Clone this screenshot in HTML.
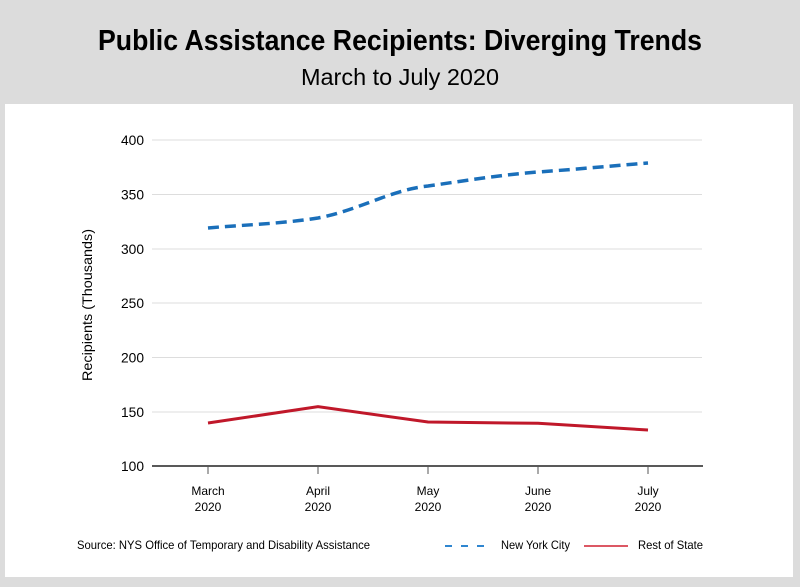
<!DOCTYPE html>
<html><head><style>
body{margin:0;width:800px;height:582px;background:#dcdcdc;font-family:"Liberation Sans",Arial,sans-serif;overflow:hidden}
</style></head><body>
<svg width="800" height="582" xmlns="http://www.w3.org/2000/svg" font-family="Liberation Sans, Arial, sans-serif">
<rect x="0" y="0" width="800" height="582" fill="#dcdcdc"/>
<rect x="5" y="104" width="788" height="473" fill="#fff"/>
<text x="400" y="50" text-anchor="middle" font-size="29" font-weight="bold" fill="#000" textLength="604" lengthAdjust="spacingAndGlyphs">Public Assistance Recipients: Diverging Trends</text>
<text x="400" y="85" text-anchor="middle" font-size="23" fill="#000" textLength="198" lengthAdjust="spacingAndGlyphs">March to July 2020</text>
<g stroke="#dddddd" stroke-width="1">
<line x1="152" x2="702" y1="140" y2="140"/><line x1="152" x2="702" y1="194.5" y2="194.5"/><line x1="152" x2="702" y1="249" y2="249"/><line x1="152" x2="702" y1="303" y2="303"/><line x1="152" x2="702" y1="357.5" y2="357.5"/><line x1="152" x2="702" y1="412" y2="412"/>
</g>
<line x1="152" x2="703" y1="466" y2="466" stroke="#222" stroke-width="1.5"/>
<g stroke="#555" stroke-width="1"><line x1="208" x2="208" y1="466" y2="474"/><line x1="318" x2="318" y1="466" y2="474"/><line x1="428" x2="428" y1="466" y2="474"/><line x1="538" x2="538" y1="466" y2="474"/><line x1="648" x2="648" y1="466" y2="474"/></g>
<g font-size="14" text-anchor="end" fill="#000">
<text x="144" y="145" textLength="23" lengthAdjust="spacingAndGlyphs">400</text><text x="144" y="199.5" textLength="23" lengthAdjust="spacingAndGlyphs">350</text><text x="144" y="254" textLength="23" lengthAdjust="spacingAndGlyphs">300</text><text x="144" y="308" textLength="23" lengthAdjust="spacingAndGlyphs">250</text><text x="144" y="362.5" textLength="23" lengthAdjust="spacingAndGlyphs">200</text><text x="144" y="417" textLength="23" lengthAdjust="spacingAndGlyphs">150</text><text x="144" y="471" textLength="23" lengthAdjust="spacingAndGlyphs">100</text>
</g>
<g font-size="12" text-anchor="middle" fill="#000">
<text x="208" y="495">March</text><text x="208" y="511">2020</text>
<text x="318" y="495">April</text><text x="318" y="511">2020</text>
<text x="428" y="495">May</text><text x="428" y="511">2020</text>
<text x="538" y="495">June</text><text x="538" y="511">2020</text>
<text x="648" y="495">July</text><text x="648" y="511">2020</text>
</g>
<text transform="translate(92,305) rotate(-90)" text-anchor="middle" font-size="14" fill="#000" textLength="152" lengthAdjust="spacingAndGlyphs">Recipients (Thousands)</text>
<path d="M208,228 C240,225 280,224 318,218 C360,210 390,190 428,186 C470,180 500,175 538,172 C580,169 610,166 648,163" fill="none" stroke="#1a6fba" stroke-width="3.5" stroke-dasharray="11,6"/>
<polyline points="208,423 318,406.7 428,422 538,423.3 648,430" fill="none" stroke="#c0182a" stroke-width="3"/>
<text x="77" y="549" font-size="12" fill="#000" textLength="293" lengthAdjust="spacingAndGlyphs">Source: NYS Office of Temporary and Disability Assistance</text>
<line x1="445" x2="489" y1="546" y2="546" stroke="#2f86d0" stroke-width="2" stroke-dasharray="7,9"/>
<text x="501" y="549" font-size="12" fill="#000" textLength="69" lengthAdjust="spacingAndGlyphs">New York City</text>
<line x1="584" x2="628" y1="546" y2="546" stroke="#d02030" stroke-width="1.5"/>
<text x="638" y="549" font-size="12" fill="#000" textLength="65" lengthAdjust="spacingAndGlyphs">Rest of State</text>
</svg>
</body></html>
